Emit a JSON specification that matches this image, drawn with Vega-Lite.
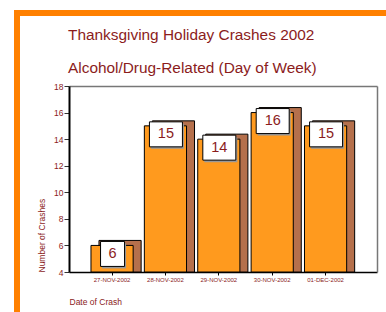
{
  "$schema": "https://vega.github.io/schema/vega-lite/v6.json",
  "autosize": {"type": "none"},
  "padding": {"left": 17, "top": 13, "right": 0, "bottom": 0},
  "width": 369,
  "height": 299,
  "background": "white",
  "config": {
    "font": "Liberation Sans",
    "view": {"stroke": "#ff8000", "strokeWidth": 6, "strokeDash": [369, 668, 299, 0], "strokeCap": "square", "fill": "white"}
  },
  "title": {
    "text": ["Thanksgiving Holiday Crashes 2002", "Alcohol/Drug-Related (Day of Week)"],
    "anchor": "start",
    "frame": "group",
    "orient": "top",
    "offset": -75,
    "dx": 51,
    "fontSize": 15.4,
    "fontWeight": "normal",
    "font": "Liberation Sans",
    "color": "#8b1c1c",
    "lineHeight": 33,
    "baseline": "alphabetic"
  },
  "data": {
    "values": [
      {"date": "27-NOV-2002", "crashes": 6},
      {"date": "28-NOV-2002", "crashes": 15},
      {"date": "29-NOV-2002", "crashes": 14},
      {"date": "30-NOV-2002", "crashes": 16},
      {"date": "01-DEC-2002", "crashes": 15}
    ]
  },
  "layer": [
    {
      "mark": {"type": "bar", "fill": "#b5704c", "stroke": "black", "strokeWidth": 1, "xOffset": 8, "yOffset": -5},
      "encoding": {
        "x": {
          "field": "date", "type": "ordinal", "sort": null,
          "scale": {"range": [52, 360], "paddingInner": 0.21, "paddingOuter": 0.49, "align": 0.42},
          "axis": {
            "orient": "bottom", "offset": -40, "domainColor": "black", "domainWidth": 1.5,
            "tickColor": "black", "tickSize": 3, "labelFontSize": 6, "labelColor": "#8b1c1c",
            "labelAngle": 0, "labelPadding": 1, "labelOverlap": false,
            "title": "Date of Crash", "titleAnchor": "start", "titleFontSize": 8.5,
            "titleFontWeight": "normal", "titleColor": "#8b1c1c", "titlePadding": 15, "grid": false
          }
        },
        "y": {
          "field": "crashes", "type": "quantitative",
          "scale": {"domain": [4, 18], "range": [259, 73], "nice": false, "zero": false},
          "axis": {
            "orient": "left", "offset": -52, "values": [4, 6, 8, 10, 12, 14, 16, 18],
            "domainColor": "black", "domainWidth": 2, "tickColor": "#333333", "tickSize": 5,
            "labelFontSize": 8.5, "labelColor": "#8b1c1c", "labelPadding": 1, "labelFlush": false, "labelOverlap": false,
            "title": "Number of Crashes", "titleAnchor": "start", "titleFontSize": 8.5,
            "titleFontWeight": "normal", "titleColor": "#8b1c1c", "titlePadding": 7, "grid": false
          }
        },
        "y2": {"datum": 4}
      }
    },
    {
      "mark": {"type": "bar", "fill": "#ff9a1e", "stroke": "black", "strokeWidth": 1},
      "encoding": {
        "x": {
          "field": "date", "type": "ordinal", "sort": null,
          "scale": {"range": [52, 360], "paddingInner": 0.21, "paddingOuter": 0.49, "align": 0.42},
          "axis": {"orient": "top", "offset": -73, "domainColor": "#777777", "domainWidth": 1.5, "ticks": false, "labels": false, "title": null, "grid": false}
        },
        "y": {
          "field": "crashes", "type": "quantitative",
          "scale": {"domain": [4, 18], "range": [259, 73], "nice": false, "zero": false},
          "axis": {"orient": "right", "offset": -9, "domainColor": "#777777", "domainWidth": 1.5, "ticks": false, "labels": false, "title": null, "grid": false}
        },
        "y2": {"datum": 4}
      }
    },
    {
      "mark": {"type": "point", "filled": true, "fill": "#999999", "opacity": 1, "strokeWidth": 0, "xOffset": 2, "yOffset": 10.5},
      "encoding": {
        "x": {"field": "date", "type": "ordinal", "sort": null, "scale": {"range": [52, 360], "paddingInner": 0.21, "paddingOuter": 0.49, "align": 0.42}, "axis": null},
        "y": {"field": "crashes", "type": "quantitative", "scale": {"domain": [4, 18], "range": [259, 73], "nice": false, "zero": false}, "axis": null},
        "shape": {"condition": {"test": "datum.crashes < 10", "value": "M-0.96,-1H0.96V1H-0.96Z"}, "value": "M-1,-0.7576H1V0.7576H-1Z"},
        "size": {"condition": {"test": "datum.crashes < 10", "value": 625}, "value": 1089}
      }
    },
    {
      "mark": {"type": "point", "filled": true, "fill": "white", "stroke": "black", "strokeWidth": 1, "opacity": 1, "yOffset": 8.5, "xOffset": 0.5},
      "encoding": {
        "x": {"field": "date", "type": "ordinal", "sort": null, "scale": {"range": [52, 360], "paddingInner": 0.21, "paddingOuter": 0.49, "align": 0.42}, "axis": null},
        "y": {"field": "crashes", "type": "quantitative", "scale": {"domain": [4, 18], "range": [259, 73], "nice": false, "zero": false}, "axis": null},
        "shape": {"condition": {"test": "datum.crashes < 10", "value": "M-0.96,-1H0.96V1H-0.96Z"}, "value": "M-1,-0.7576H1V0.7576H-1Z"},
        "size": {"condition": {"test": "datum.crashes < 10", "value": 625}, "value": 1089}
      }
    },
    {
      "mark": {"type": "text", "color": "#8b1c1c", "fontSize": 14.5, "font": "Liberation Sans", "baseline": "middle", "align": "center", "yOffset": 8.5, "xOffset": 0.5},
      "encoding": {
        "x": {"field": "date", "type": "ordinal", "sort": null, "scale": {"range": [52, 360], "paddingInner": 0.21, "paddingOuter": 0.49, "align": 0.42}, "axis": null},
        "y": {"field": "crashes", "type": "quantitative", "scale": {"domain": [4, 18], "range": [259, 73], "nice": false, "zero": false}, "axis": null},
        "text": {"field": "crashes", "type": "quantitative"}
      }
    }
  ],
  "resolve": {"axis": {"x": "independent", "y": "independent"}}
}
